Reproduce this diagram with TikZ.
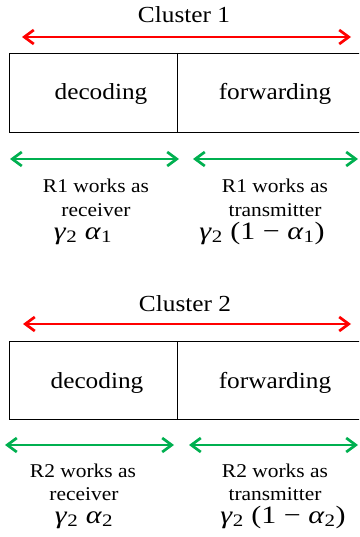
\RequirePackage{fix-cm}
\documentclass[tikz,border=0pt]{standalone}
\usepackage{fontspec}
\setmainfont{Liberation Serif}
\usetikzlibrary{arrows.meta}
\definecolor{arrred}{RGB}{255,0,0}
\definecolor{arrgreen}{RGB}{0,176,80}
\newcommand{\widetxt}[1]{\scalebox{1.1}[1]{#1}}
% time-share expressions, set in the serif text face
\newcommand{\gsym}{\textit{γ}\textsubscript{2}}
\newcommand{\asym}[1]{\textit{α}\textsubscript{#1}}
\newcommand{\sharetxt}[1]{\scalebox{1.2}[1]{#1}}
\tikzset{
  title/.style={anchor=base, inner sep=0pt, font=\fontsize{23}{27}\selectfont},
  phase/.style={anchor=base, inner sep=0pt, font=\fontsize{23}{27}\selectfont},
  role/.style={anchor=base, inner sep=0pt, font=\fontsize{19.5}{23}\selectfont},
  share/.style={anchor=base, inner sep=0pt, font=\fontsize{25}{28}\selectfont},
  barbs/.style={{Straight Barb[length=9.5pt,width=14pt]}-{Straight Barb[length=9.5pt,width=14pt]}},
  span/.style={line width=2.7pt, arrred, barbs},
  part/.style={line width=2.7pt, arrgreen, barbs},
  slot/.style={line width=0.9pt, black}
}
\begin{document}
\begin{tikzpicture}[x=1pt,y=-1pt]
\useasboundingbox (0,0) rectangle (359,537);
\clip (0,0) rectangle (359,537);

% ---------- Cluster 1 ----------
\node[title] (t1) at (184,23) {\widetxt{Cluster 1}};
\coordinate (r1a) at (22,37);
\coordinate (r1b) at (351,37);
\draw[span] (r1a) -- (r1b);

\draw[slot] (365,53) -- (9,53) -- (9,132) -- (365,132);
\draw[slot] (177,53) -- (177,132);
\node[phase] (dec1) at (101,100) {\widetxt{decoding}};
\node[phase] (fwd1) at (275,100) {\widetxt{forwarding}};

\coordinate (g1a) at (10,159);
\coordinate (g1b) at (179,159);
\coordinate (g1c) at (193,159);
\coordinate (g1d) at (358,159);
\draw[part] (g1a) -- (g1b);
\draw[part] (g1c) -- (g1d);

\node[role] (rx1a) at (96,193) {\widetxt{R1 works as}};
\node[role] (rx1b) at (96,216) {\widetxt{receiver}};
\node[share] (rx1m) at (83,239) {\sharetxt{\gsym\ \asym{1}}};
\node[role] (tx1a) at (275,193) {\widetxt{R1 works as}};
\node[role] (tx1b) at (275,216) {\widetxt{transmitter}};
\node[share] (tx1m) at (262,239) {\sharetxt{\gsym\ (1 − \asym{1})}};

% ---------- Cluster 2 ----------
\node[title] (t2) at (185,311) {\widetxt{Cluster 2}};
\coordinate (r2a) at (23,324);
\coordinate (r2b) at (351,324);
\draw[span] (r2a) -- (r2b);

\draw[slot] (365,341) -- (9,341) -- (9,419) -- (365,419);
\draw[slot] (177,341) -- (177,419);
\node[phase] (dec2) at (97,388) {\widetxt{decoding}};
\node[phase] (fwd2) at (275,388) {\widetxt{forwarding}};

\coordinate (g2a) at (5,445);
\coordinate (g2b) at (174,445);
\coordinate (g2c) at (189,445);
\coordinate (g2d) at (358,445);
\draw[part] (g2a) -- (g2b);
\draw[part] (g2c) -- (g2d);

\node[role] (rx2a) at (83,477) {\widetxt{R2 works as}};
\node[role] (rx2b) at (84,500) {\widetxt{receiver}};
\node[share] (rx2m) at (84,523) {\sharetxt{\gsym\ \asym{2}}};
\node[role] (tx2a) at (275,477) {\widetxt{R2 works as}};
\node[role] (tx2b) at (275,500) {\widetxt{transmitter}};
\node[share] (tx2m) at (283,523) {\sharetxt{\gsym\ (1 − \asym{2})}};
\end{tikzpicture}
\end{document}
